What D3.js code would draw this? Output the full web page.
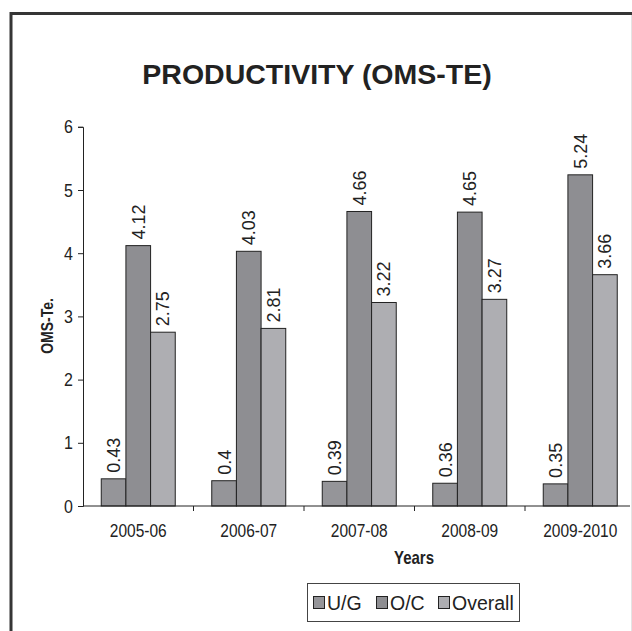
<!DOCTYPE html>
<html>
<head>
<meta charset="utf-8">
<script src="https://cdn.jsdelivr.net/npm/d3@7"></script>
<style>
body { margin: 0; background: #fff; }
svg { display: block; font-family: Arial, "Liberation Sans", sans-serif; }
.tall { transform-box: fill-box; transform-origin: center; transform: scaleY(1.18); }
</style>
</head>
<body>
<div id="chart"></div>
<script>
const years = ['2005-06', '2006-07', '2007-08', '2008-09', '2009-2010'];
const series = ['U/G', 'O/C', 'Overall'];
const ug = [0.43, 0.4, 0.39, 0.36, 0.35];
const oc = [4.12, 4.03, 4.66, 4.65, 5.24];
const overall = [2.75, 2.81, 3.22, 3.27, 3.66];
const y_ticks = [0, 1, 2, 3, 4, 5, 6];

const colours = { 'U/G': '#959599', 'O/C': '#8e8e92', 'Overall': '#aeaeb2' };

const width = 632;
const height = 631;

const rows = years.map((year, i) => ({
	year,
	values: [
		{ key: 'U/G', value: ug[i] },
		{ key: 'O/C', value: oc[i] },
		{ key: 'Overall', value: overall[i] },
	],
}));

const svg = d3.select('#chart').append('svg')
	.attr('width', width)
	.attr('height', height);

// frame
svg.append('line')
	.attr('x1', 11).attr('y1', 13.5).attr('x2', width).attr('y2', 13.5)
	.style('stroke', '#353535').style('stroke-width', 3);
svg.append('line')
	.attr('x1', 11).attr('y1', 12).attr('x2', 11).attr('y2', height)
	.style('stroke', '#353535').style('stroke-width', 3);
svg.append('line')
	.attr('x1', 631.5).attr('y1', 15).attr('x2', 631.5).attr('y2', height)
	.style('stroke', '#e4e4e4').style('stroke-width', 1);

svg.append('text')
	.attr('x', 317)
	.attr('y', 84)
	.attr('text-anchor', 'middle')
	.attr('font-size', '28.5px')
	.attr('font-weight', 'bold')
	.style('fill', '#222')
	.text('PRODUCTIVITY (OMS-TE)');

const x0 = d3.scaleBand()
	.domain(years)
	.range([83, 635.5]);

const x1 = d3.scaleBand()
	.domain(series)
	.range([0, x0.bandwidth()])
	.paddingOuter(0.74);

const y = d3.scaleLinear()
	.domain([0, 6])
	.range([506, 126.8]);

const bars = svg.append('g')
	.selectAll('g')
	.data(rows)
	.enter()
	.append('g')
	.attr('transform', d => `translate(${x0(d.year)},0)`);

bars.selectAll('rect')
	.data(d => d.values)
	.enter()
	.append('rect')
	.attr('x', d => x1(d.key))
	.attr('y', d => y(d.value))
	.attr('width', x1.bandwidth())
	.attr('height', d => y(0) - y(d.value))
	.style('fill', d => colours[d.key])
	.style('stroke', '#222')
	.style('stroke-width', 1);

bars.selectAll('text')
	.data(d => d.values)
	.enter()
	.append('text')
	.attr('transform', d => `translate(${x1(d.key) + x1.bandwidth() / 2},${y(d.value) - 6}) rotate(-90)`)
	.attr('dy', '0.36em')
	.attr('font-size', '18px')
	.style('fill', '#222')
	.text(d => d.value);

// y axis
const y_axis = svg.append('g')
	.attr('transform', 'translate(83,0)')
	.call(d3.axisLeft(y).tickValues(y_ticks).tickSize(5).tickPadding(5).tickFormat(d3.format('d')));
y_axis.select('.domain').style('stroke', '#222');
y_axis.selectAll('line').style('stroke', '#222');
y_axis.selectAll('text')
	.attr('font-size', '16px')
	.attr('class', 'tall')
	.style('fill', '#222');

// x axis: ticks between categories
const x_axis = svg.append('g')
	.attr('transform', 'translate(0,506)');
x_axis.append('line')
	.attr('x1', 83).attr('x2', 630)
	.style('stroke', '#222');
x_axis.selectAll('.tick')
	.data(years.slice(1))
	.enter()
	.append('line')
	.attr('x1', d => x0(d)).attr('x2', d => x0(d))
	.attr('y1', 0).attr('y2', 5)
	.style('stroke', '#222');
x_axis.selectAll('.lbl')
	.data(years)
	.enter()
	.append('text')
	.attr('class', 'tall')
	.attr('x', d => x0(d) + x0.bandwidth() / 2)
	.attr('y', 30)
	.attr('text-anchor', 'middle')
	.attr('font-size', '15.5px')
	.style('fill', '#222')
	.text(d => d);

svg.append('text')
	.attr('class', 'tall')
	.attr('x', 414)
	.attr('y', 563)
	.attr('text-anchor', 'middle')
	.attr('font-size', '15px')
	.attr('font-weight', 'bold')
	.style('fill', '#222')
	.text('Years');

svg.append('g')
	.attr('transform', 'translate(52,326) rotate(-90)')
	.append('text')
	.attr('class', 'tall')
	.attr('text-anchor', 'middle')
	.attr('font-size', '14px')
	.attr('font-weight', 'bold')
	.style('fill', '#222')
	.text('OMS-Te.');

// legend
const legend = svg.append('g');
legend.append('rect')
	.attr('x', 307.5).attr('y', 583.5)
	.attr('width', 212).attr('height', 38)
	.style('fill', '#fff')
	.style('stroke', '#444');

const legend_x = [313, 376, 438];
const items = legend.selectAll('g')
	.data(series)
	.enter()
	.append('g')
	.attr('transform', (d, i) => `translate(${legend_x[i]},0)`);
items.append('rect')
	.attr('x', 0.5).attr('y', 596.5)
	.attr('width', 11).attr('height', 12)
	.style('fill', d => colours[d])
	.style('stroke', '#222');
items.append('text')
	.attr('x', 14)
	.attr('y', 610)
	.attr('font-size', '19.5px')
	.style('fill', '#222')
	.text(d => d);
</script>
</body>
</html>
